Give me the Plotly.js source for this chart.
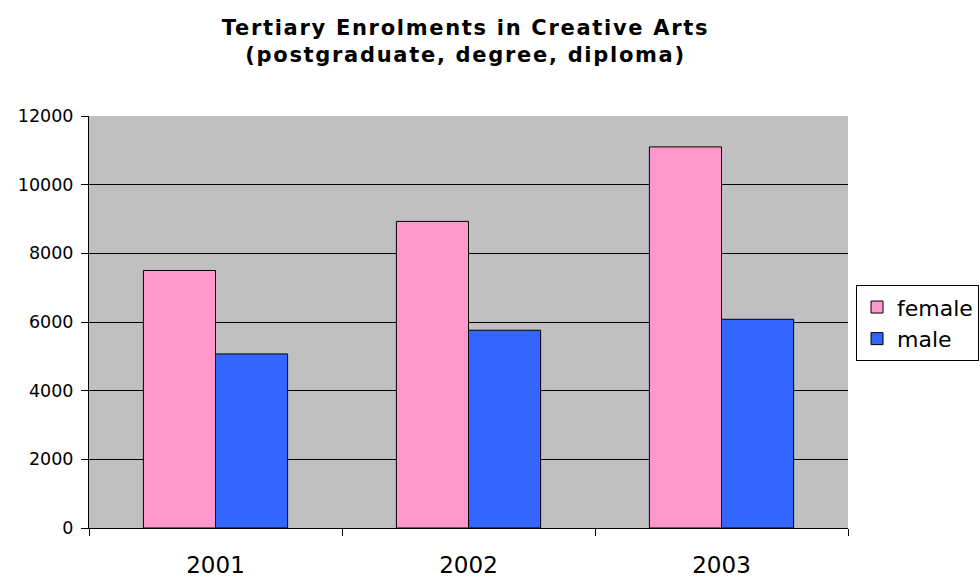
<!DOCTYPE html>
<html>
<head>
<meta charset="utf-8">
<script src="https://cdn.plot.ly/plotly-3.0.1.min.js"></script>
<style>
html,body{margin:0;padding:0;background:#fff;}
#chart{width:980px;height:578px;}
#chart .gtitle{letter-spacing:1.7px;}
</style>
</head>
<body>
<div id="chart"></div>
<script>
const years = ['2001', '2002', '2003'];
const female = [7500, 8930, 11100];
const male = [5070, 5760, 6080];
const yTicks = [0, 2000, 4000, 6000, 8000, 10000, 12000];

const traces = [
  {type: 'bar', name: 'female', x: years, y: female,
   marker: {color: '#FF99CC', line: {color: '#000000', width: 1}}},
  {type: 'bar', name: 'male', x: years, y: male,
   marker: {color: '#3366FF', line: {color: '#000000', width: 1}}}
];

const layout = {
  width: 980, height: 578,
  paper_bgcolor: '#FFFFFF',
  plot_bgcolor: '#C0C0C0',
  font: {family: 'DejaVu Sans, Verdana, sans-serif', color: '#000000'},
  margin: {l: 89, r: 132, t: 116, b: 50, pad: 0, autoexpand: false},
  barmode: 'group',
  bargap: 0.43,
  bargroupgap: 0,
  title: {
    text: '<b>Tertiary Enrolments in Creative Arts<br>(postgraduate, degree, diploma)</b>',
    font: {size: 21, family: 'DejaVu Sans, Verdana, sans-serif', color: '#000'},
    x: 0.475, xanchor: 'center', y: 0.94, yanchor: 'top', xref: 'container', yref: 'container'
  },
  xaxis: {
    type: 'category',
    tickson: 'boundaries',
    ticks: 'outside', ticklen: 7, tickcolor: '#000', tickwidth: 1,
    showline: true, linecolor: '#000', linewidth: 1,
    showgrid: false,
    tickfont: {size: 23},
    ticklabelstandoff: 16,
    fixedrange: true
  },
  yaxis: {
    range: [0, 12000],
    tickvals: yTicks,
    ticktext: yTicks.map(String),
    ticks: 'outside', ticklen: 7, tickcolor: '#000', tickwidth: 1,
    showline: true, linecolor: '#000', linewidth: 1,
    showgrid: true, gridcolor: '#000', gridwidth: 1,
    zeroline: false,
    tickfont: {size: 17.5},
    ticklabelstandoff: 4,
    fixedrange: true
  },
  legend: {
    xref: 'container', x: 0.999, xanchor: 'right',
    y: 0.497, yanchor: 'middle',
    bordercolor: '#000', borderwidth: 1, bgcolor: '#FFFFFF',
    font: {size: 22},
    itemwidth: 30,
    tracegroupgap: 0
  },
  showlegend: true
};

Plotly.newPlot('chart', traces, layout, {displayModeBar: false, staticPlot: true});
</script>
</body>
</html>
